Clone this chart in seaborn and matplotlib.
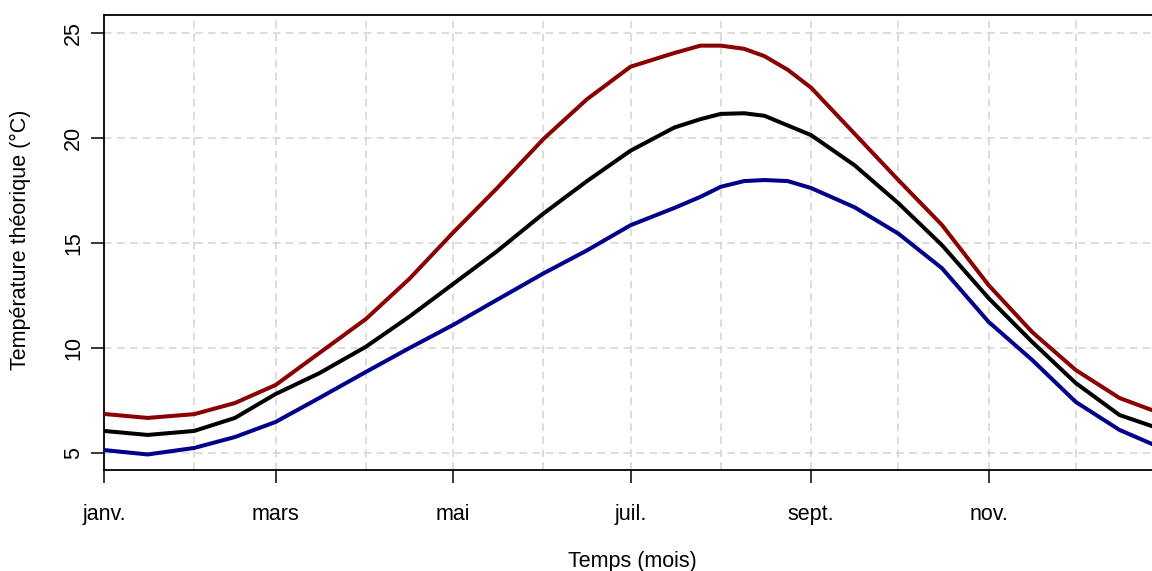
import matplotlib
matplotlib.use("Agg")
import matplotlib.pyplot as plt
import seaborn as sns
import pandas as pd

# Day of year (0 = 1 January) at which the temperatures are given
jours = [0, 15, 31, 45, 59, 74, 90, 105, 120, 135, 151, 166, 181, 196, 205,
         212, 220, 227, 235, 243, 258, 273, 288, 304, 319, 334, 349, 361]

# Theoretical temperatures (°C)
t_haute = [6.86, 6.67, 6.85, 7.38, 8.24, 9.76, 11.38, 13.3, 15.5, 17.6, 19.95,
           21.85, 23.4, 24.05, 24.4, 24.4, 24.25, 23.9, 23.25, 22.4, 20.2,
           18.0, 15.86, 13.0, 10.76, 8.95, 7.62, 7.0]
t_moyenne = [6.05, 5.86, 6.05, 6.67, 7.81, 8.8, 10.06, 11.5, 13.05, 14.6,
             16.4, 17.95, 19.4, 20.5, 20.9, 21.15, 21.18, 21.06, 20.6, 20.14,
             18.7, 16.9, 14.9, 12.38, 10.29, 8.33, 6.81, 6.24]
t_basse = [5.14, 4.93, 5.24, 5.76, 6.48, 7.62, 8.86, 10.0, 11.1, 12.29, 13.55,
           14.65, 15.85, 16.67, 17.2, 17.68, 17.95, 18.0, 17.95, 17.62, 16.7,
           15.45, 13.8, 11.25, 9.43, 7.43, 6.1, 5.38]

series = ["haute", "moyenne", "basse"]
couleurs = {"haute": "#8B0000", "moyenne": "#000000", "basse": "#00008B"}

debuts_mois = [0, 31, 59, 90, 120, 151, 181, 212, 243, 273, 304, 334]
mois_ticks = [0, 59, 120, 181, 243, 304]
mois_labels = ["janv.", "mars", "mai", "juil.", "sept.", "nov."]
y_ticks = [5, 10, 15, 20, 25]

df = pd.concat([
    pd.DataFrame({"jour": jours, "temp": t_haute, "serie": "haute"}),
    pd.DataFrame({"jour": jours, "temp": t_moyenne, "serie": "moyenne"}),
    pd.DataFrame({"jour": jours, "temp": t_basse, "serie": "basse"}),
])

sns.set_theme(style="ticks")
plt.rcParams["font.family"] = ["Liberation Sans", "DejaVu Sans"]
plt.rcParams["text.color"] = "black"
plt.rcParams["axes.labelcolor"] = "black"

FS = 15.5

fig = plt.figure(figsize=(11.52, 5.71), dpi=100)
ax = fig.add_axes([104 / 1152, 101 / 571, 1062 / 1152, 455 / 571])

grid_kw = dict(color="#d3d3d3", linewidth=1.1, linestyle=(0, (5, 3.5)), zorder=0)
for d in debuts_mois:
    ax.axvline(d, **grid_kw)
for v in y_ticks:
    ax.axhline(v, **grid_kw)

sns.lineplot(data=df, x="jour", y="temp", hue="serie", hue_order=series,
             palette=couleurs, linewidth=2.9, sort=False, estimator=None,
             legend=False, ax=ax, zorder=3)

ax.set_xlim(0, 365)
ax.set_ylim(4.19, 25.86)
ax.set_xticks(mois_ticks)
ax.set_xticklabels(mois_labels)
ax.set_yticks(y_ticks)
ax.set_yticklabels([str(v) for v in y_ticks], rotation=90, va="center", ha="right")

ax.tick_params(axis="both", direction="out", length=9.4, width=1.1,
               color="black", labelsize=FS, labelcolor="black")
ax.tick_params(axis="x", pad=15)
ax.tick_params(axis="y", pad=5)

for side in ["left", "top", "bottom", "right"]:
    ax.spines[side].set_color("black")
    ax.spines[side].set_linewidth(1.3)
    ax.spines[side].set_visible(True)

ax.set_xlabel("Temps (mois)", fontsize=FS, va="center", color="black")
ax.set_ylabel("Température théorique (°C)", fontsize=FS, va="center", color="black")
ax.xaxis.set_label_coords((632 - 104) / 1062, (470 - 562) / 455)
ax.yaxis.set_label_coords((20 - 104) / 1062, (470 - 240) / 455)

fig.savefig("out.png", dpi=100)
